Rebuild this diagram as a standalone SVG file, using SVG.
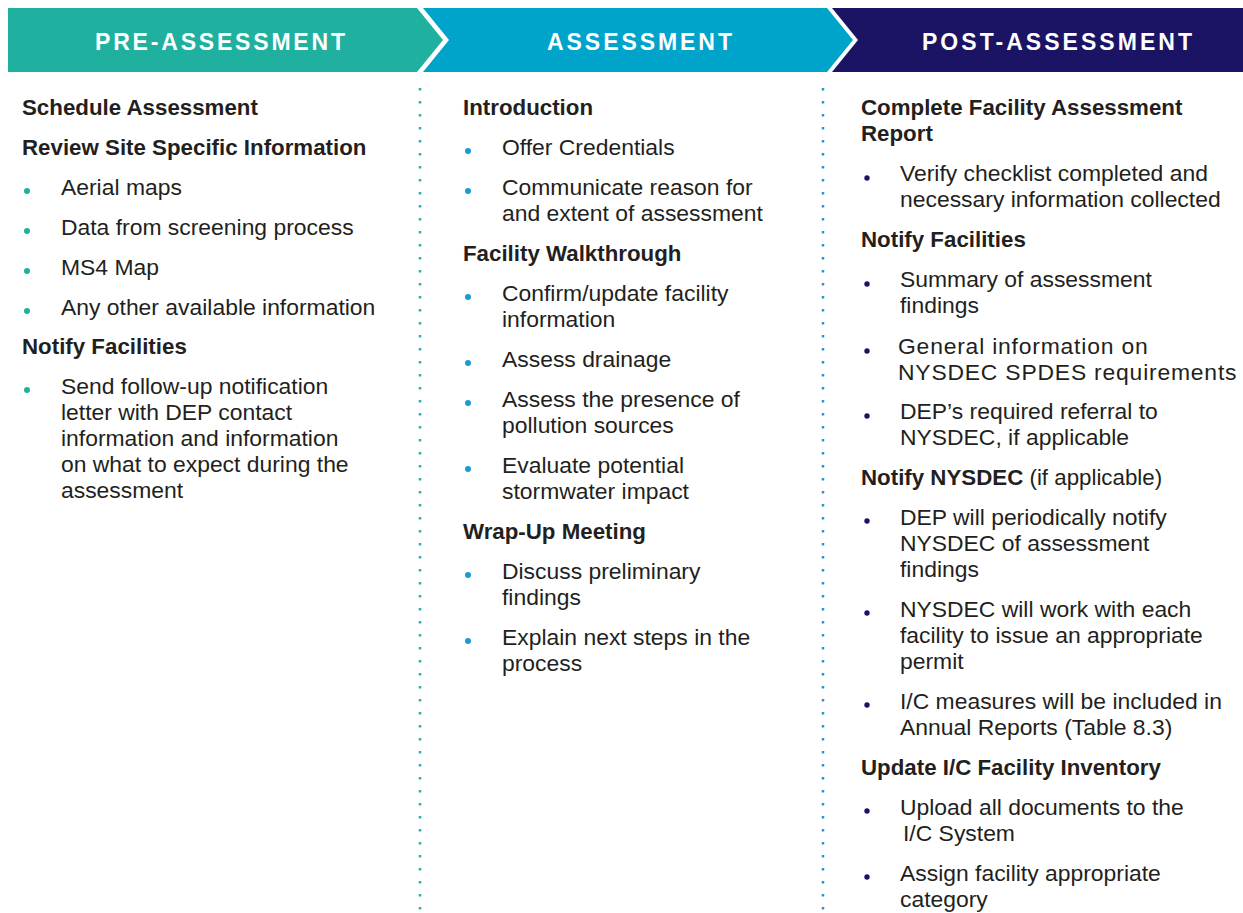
<svg xmlns="http://www.w3.org/2000/svg" width="1243" height="913" viewBox="0 0 1243 913">
<style>
.hd{font-family:"Liberation Sans",Arial,sans-serif;font-weight:700;font-size:23px;fill:#ffffff}
.h{font-family:"Liberation Sans",Arial,sans-serif;font-weight:700;font-size:22.3px;fill:#231f20}
.t{font-family:"Liberation Sans",Arial,sans-serif;font-size:22.9px;fill:#231f20}
.w{letter-spacing:0.8px}
.b1{fill:#1fb0a0}
.b2{fill:#1a9ad6}
.b3{fill:#1b1464}
.sep{fill:none;stroke-width:2.5;stroke-dasharray:2.5 10.5}
</style>
<rect width="1243" height="913" fill="#ffffff"/>
<g id="banner-pre">
<polygon points="8,8 417,8 443,40 417,72 8,72" fill="#1fb09f"/>
<text class="hd" x="95" y="50" textLength="250" lengthAdjust="spacing">PRE-ASSESSMENT</text>
</g>
<g id="banner-assessment">
<polygon points="423,8 827,8 853,40 827,72 423,72 449,40" fill="#00a3ca"/>
<text class="hd" x="547" y="50" textLength="185" lengthAdjust="spacing">ASSESSMENT</text>
</g>
<g id="banner-post">
<polygon points="832,8 1243,8 1243,72 832,72 858,40" fill="#1b1464"/>
<text class="hd" x="922" y="50" textLength="270" lengthAdjust="spacing">POST-ASSESSMENT</text>
</g>
<g id="connectors">
<line class="sep" x1="420" y1="88" x2="420" y2="913" stroke="#2ab3ad"/>
<line class="sep" x1="823" y1="88" x2="823" y2="913" stroke="#1a9ad6"/>
</g>
<g id="col-pre">
<text class="h" x="22" y="115">Schedule Assessment</text>
<text class="h" x="22" y="155">Review Site Specific Information</text>
<circle class="b1" cx="27" cy="191" r="3"/>
<text class="t" x="61" y="195">Aerial maps</text>
<circle class="b1" cx="27" cy="231" r="3"/>
<text class="t" x="61" y="235">Data from screening process</text>
<circle class="b1" cx="27" cy="271" r="3"/>
<text class="t" x="61" y="275">MS4 Map</text>
<circle class="b1" cx="27" cy="311" r="3"/>
<text class="t" x="61" y="315">Any other available information</text>
<text class="h" x="22" y="354">Notify Facilities</text>
<circle class="b1" cx="27" cy="390" r="3"/>
<text class="t" x="61" y="394">Send follow-up notification</text>
<text class="t" x="61" y="420">letter with DEP contact</text>
<text class="t" x="61" y="446">information and information</text>
<text class="t" x="61" y="472">on what to expect during the</text>
<text class="t" x="61" y="498">assessment</text>
</g>
<g id="col-assessment">
<text class="h" x="463" y="115">Introduction</text>
<circle class="b2" cx="468" cy="151" r="3"/>
<text class="t" x="502" y="155">Offer Credentials</text>
<circle class="b2" cx="468" cy="191" r="3"/>
<text class="t" x="502" y="195">Communicate reason for</text>
<text class="t" x="502" y="221">and extent of assessment</text>
<text class="h" x="463" y="261">Facility Walkthrough</text>
<circle class="b2" cx="468" cy="297" r="3"/>
<text class="t" x="502" y="301">Confirm/update facility</text>
<text class="t" x="502" y="327">information</text>
<circle class="b2" cx="468" cy="363" r="3"/>
<text class="t" x="502" y="367">Assess drainage</text>
<circle class="b2" cx="468" cy="403" r="3"/>
<text class="t" x="502" y="407">Assess the presence of</text>
<text class="t" x="502" y="433">pollution sources</text>
<circle class="b2" cx="468" cy="469" r="3"/>
<text class="t" x="502" y="473">Evaluate potential</text>
<text class="t" x="502" y="499">stormwater impact</text>
<text class="h" x="463" y="539">Wrap-Up Meeting</text>
<circle class="b2" cx="468" cy="575" r="3"/>
<text class="t" x="502" y="579">Discuss preliminary</text>
<text class="t" x="502" y="605">findings</text>
<circle class="b2" cx="468" cy="641" r="3"/>
<text class="t" x="502" y="645">Explain next steps in the</text>
<text class="t" x="502" y="671">process</text>
</g>
<g id="col-post">
<text class="h" x="861" y="115">Complete Facility Assessment</text>
<text class="h" x="861" y="141">Report</text>
<circle class="b3" cx="867" cy="178" r="2.7"/>
<text class="t" x="900" y="181">Verify checklist completed and</text>
<text class="t" x="900" y="207">necessary information collected</text>
<text class="h" x="861" y="247">Notify Facilities</text>
<circle class="b3" cx="867" cy="284" r="2.7"/>
<text class="t" x="900" y="287">Summary of assessment</text>
<text class="t" x="900" y="313">findings</text>
<circle class="b3" cx="867" cy="351" r="2.7"/>
<text class="t w" x="898" y="354">General information on</text>
<text class="t w" x="898" y="380">NYSDEC SPDES requirements</text>
<circle class="b3" cx="867" cy="416" r="2.7"/>
<text class="t" x="900" y="419">DEP’s required referral to</text>
<text class="t" x="900" y="445">NYSDEC, if applicable</text>
<text class="h" x="861" y="485">Notify NYSDEC <tspan style="font-weight:400">(if applicable)</tspan></text>
<circle class="b3" cx="867" cy="521" r="2.7"/>
<text class="t" x="900" y="525">DEP will periodically notify</text>
<text class="t" x="900" y="551">NYSDEC of assessment</text>
<text class="t" x="900" y="577">findings</text>
<circle class="b3" cx="867" cy="613" r="2.7"/>
<text class="t" x="900" y="617">NYSDEC will work with each</text>
<text class="t" x="900" y="643">facility to issue an appropriate</text>
<text class="t" x="900" y="669">permit</text>
<circle class="b3" cx="867" cy="705" r="2.7"/>
<text class="t" x="900" y="709">I/C measures will be included in</text>
<text class="t" x="900" y="735">Annual Reports (Table 8.3)</text>
<text class="h" x="861" y="775">Update I/C Facility Inventory</text>
<circle class="b3" cx="867" cy="811" r="2.7"/>
<text class="t" x="900" y="815">Upload all documents to the</text>
<text class="t" x="903" y="841">I/C System</text>
<circle class="b3" cx="867" cy="877" r="2.7"/>
<text class="t" x="900" y="881">Assign facility appropriate</text>
<text class="t" x="900" y="907">category</text>
</g>
</svg>
